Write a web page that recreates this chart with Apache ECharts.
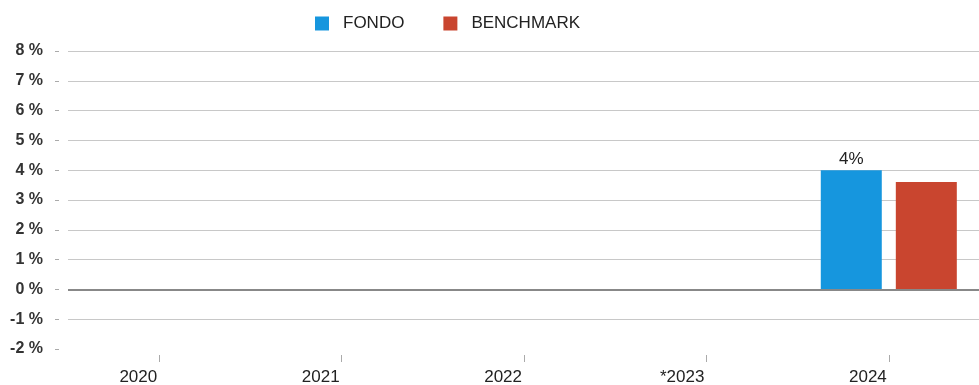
<!DOCTYPE html>
<html>
<head>
<meta charset="utf-8">
<script src="https://cdn.jsdelivr.net/npm/echarts@6/dist/echarts.min.js"></script>
<style>
  html, body { margin: 0; padding: 0; background: #fff; }
  #chart { width: 979px; height: 385px; }
</style>
</head>
<body>
<div id="chart"></div>
<script>
// Annual returns, fund vs benchmark
const years = ['2020', '2021', '2022', '*2023', '2024'];
const fondo = [null, null, null, null, 4];
const benchmark = [null, null, null, null, 3.6];
const yTicks = [-2, -1, 0, 1, 2, 3, 4, 5, 6, 7, 8];

const chart = echarts.init(document.getElementById('chart'));
chart.setOption({
  animation: false,
  textStyle: { fontFamily: 'Liberation Sans, Arial, sans-serif' },
  legend: {
    left: 310,
    top: 10,
    itemWidth: 14,
    itemHeight: 14,
    itemGap: 39,
    icon: 'rect',
    textStyle: { fontSize: 17, color: '#222', padding: [0, 0, 0, 9] },
    data: ['FONDO', 'BENCHMARK']
  },
  grid: { left: 68, right: -1, top: 51, bottom: 36, outerBoundsMode: 'none' },
  xAxis: {
    type: 'category',
    data: years,
    offset: 6,
    axisLine: { show: false, onZero: false },
    axisTick: { show: true, alignWithLabel: true, length: 7, lineStyle: { color: '#aaa' } },
    axisLabel: { align: 'right', margin: 14, fontSize: 17, color: '#222', padding: [0, 2, 0, 0] }
  },
  yAxis: {
    type: 'value',
    min: yTicks[0],
    max: yTicks[yTicks.length - 1],
    interval: 1,
    offset: 9,
    axisLine: { show: false },
    axisTick: { show: true, length: 4, lineStyle: { color: '#aaa' } },
    axisLabel: {
      margin: 16,
      fontSize: 16,
      fontWeight: 'bold',
      color: '#333',
      formatter: v => v + ' %'
    },
    splitLine: {
      show: true,
      showMinLine: false,
      lineStyle: { color: '#c8c8c8', width: 1 }
    }
  },
  series: [
    {
      name: 'FONDO',
      type: 'bar',
      data: fondo,
      barWidth: 61,
      barGap: '23%',
      itemStyle: { color: '#1696de' },
      label: {
        show: true,
        position: 'top',
        distance: 2,
        fontSize: 17,
        color: '#222',
        formatter: p => p.value + '%'
      },
      markLine: {
        silent: true,
        symbol: 'none',
        label: { show: false },
        lineStyle: { color: '#888', width: 2, type: 'solid' },
        data: [{ yAxis: 0 }]
      }
    },
    {
      name: 'BENCHMARK',
      type: 'bar',
      data: benchmark,
      barWidth: 61,
      itemStyle: { color: '#c9452f' }
    }
  ]
});
</script>
</body>
</html>
